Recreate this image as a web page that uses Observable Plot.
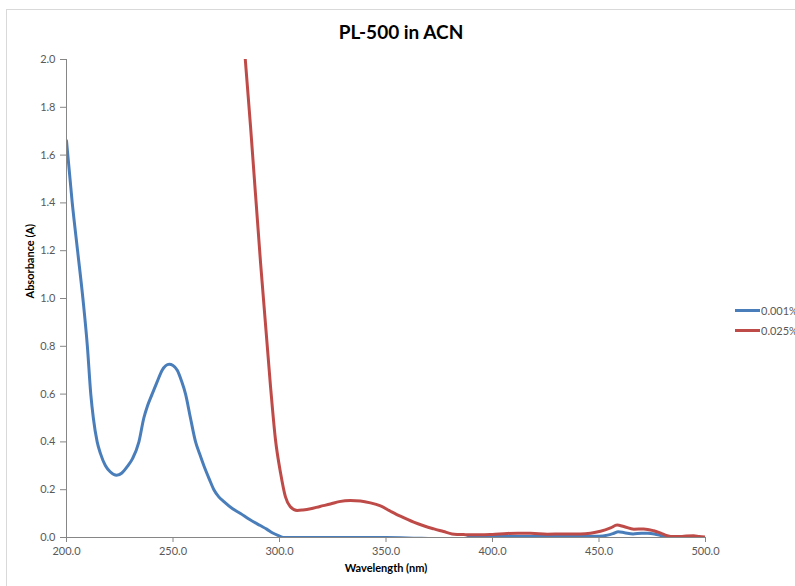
<!DOCTYPE html>
<html>
<head>
<meta charset="utf-8">
<script src="https://cdn.jsdelivr.net/npm/d3@7"></script>
<script src="https://cdn.jsdelivr.net/npm/@observablehq/plot@0.6"></script>
<style>
  html, body { margin: 0; padding: 0; background: #fff; }
  #wrap { position: relative; width: 795px; height: 586px; overflow: hidden; font-family: Lato, "Open Sans", sans-serif; }
  #frame { position: absolute; left: 6px; top: 9px; width: 900px; height: 700px; border: 1px solid #d9d9d9; box-sizing: border-box; }
  #title { position: absolute; left: 0; top: 20px; width: 802px; text-align: center; font-weight: bold; font-size: 19px; color: #000; }
  #chart { position: absolute; left: 0; top: 0; }
  #legend { position: absolute; left: 735px; top: 300px; font-size: 11px; color: #595959; }
  .item { display: flex; align-items: center; height: 20px; white-space: nowrap; }
  .swatch { width: 25px; height: 3px; margin-right: 1px; }
</style>
</head>
<body>
<div id="wrap">
  <div id="frame"></div>
  <div id="title">PL-500 in ACN</div>
  <div id="chart"></div>
  <div id="legend"></div>
</div>
<script>
// Series names and colours
const seriesNames = ["0.001%", "0.025%"];
const seriesColors = ["#4a7ebb", "#be4b48"];

// 0.001% series (wavelength nm, absorbance A)
const wl001 = [200, 202.7, 205.2, 207.7, 209.8, 211.4, 212.6, 214.4, 216, 218.3, 220.5, 223.5, 226, 228.8, 231, 234, 236.3, 238, 240.2, 242.5, 244.9, 248.2, 250, 252, 254, 255.9, 258.2, 260.6, 262.5, 264.5, 267, 269.2, 271.5, 273.9, 278, 281.7, 286, 291, 294, 296.6, 299.5, 301.9, 310, 330, 350, 365, 370, 372, 385, 390, 420, 450, 454, 457, 459, 462, 466, 470, 473, 476, 479, 482, 484, 500];
const abs001 = [1.66, 1.40, 1.20, 1.00, 0.80, 0.60, 0.50, 0.40, 0.35, 0.30, 0.275, 0.26, 0.27, 0.30, 0.33, 0.40, 0.50, 0.55, 0.60, 0.65, 0.70, 0.725, 0.72, 0.70, 0.655, 0.60, 0.50, 0.40, 0.35, 0.30, 0.245, 0.20, 0.17, 0.15, 0.12, 0.10, 0.075, 0.05, 0.035, 0.02, 0.008, 0.0, 0.0, 0.0, 0.0, -0.003, -0.004, -0.012, -0.012, 0.004, 0.004, 0.005, 0.01, 0.018, 0.024, 0.02, 0.015, 0.018, 0.018, 0.015, 0.008, 0.0, -0.012, -0.012];

// 0.025% series (wavelength nm, absorbance A)
const wl025 = [283.5, 286.4, 291.1, 295.8, 298.1, 300.5, 302.8, 305, 308.3, 311, 314.6, 319, 323.9, 328, 333.3, 338, 342.7, 347.4, 352.1, 357, 363, 368, 372.5, 377, 381, 387, 394.4, 400, 406.9, 412, 417.8, 425.7, 433, 441.3, 446, 450.7, 455.4, 458.5, 461.6, 466.4, 471, 475.7, 479, 482, 485, 488.3, 491, 494.4, 497, 500];
const abs025 = [2.05, 1.72, 1.15, 0.63, 0.41, 0.27, 0.17, 0.13, 0.113, 0.115, 0.12, 0.13, 0.14, 0.15, 0.155, 0.153, 0.145, 0.132, 0.11, 0.088, 0.064, 0.048, 0.036, 0.025, 0.015, 0.012, 0.011, 0.013, 0.017, 0.018, 0.018, 0.014, 0.015, 0.015, 0.018, 0.026, 0.04, 0.052, 0.046, 0.035, 0.036, 0.028, 0.018, 0.008, 0.004, 0.004, 0.006, 0.007, 0.004, 0.002];

// Axis ticks
const xTicks = [200, 250, 300, 350, 400, 450, 500];
const yTicks = [0, 0.2, 0.4, 0.6, 0.8, 1.0, 1.2, 1.4, 1.6, 1.8, 2.0];

const data001 = wl001.map((w, i) => ({w, a: abs001[i]}));
const data025 = wl025.map((w, i) => ({w, a: abs025[i]}));

const fmt = d3.format(".1f");
const axisColor = "#868686";
const textColor = "#595959";

const chart = Plot.plot({
  width: 795,
  height: 586,
  marginLeft: 66,
  marginRight: 90,
  marginTop: 59,
  marginBottom: 49,
  style: { fontFamily: "Lato, 'Open Sans', sans-serif", fontSize: "11px", color: textColor, background: "transparent", overflow: "visible" },
  x: { domain: [200, 500] },
  y: { domain: [0, 2] },
  marks: [
    Plot.line(data001, { x: "w", y: "a", stroke: seriesColors[0], strokeWidth: 3, curve: "monotone-x", clip: true }),
    Plot.line(data025, { x: "w", y: "a", stroke: seriesColors[1], strokeWidth: 3, curve: "monotone-x", clip: true }),
    Plot.ruleX([200], { stroke: axisColor, strokeWidth: 1 }),
    Plot.ruleY([0], { stroke: axisColor, strokeWidth: 1 }),
    Plot.axisY({ ticks: yTicks, tickFormat: fmt, tickSize: 6, tickPadding: 5, stroke: axisColor, fill: textColor, label: null }),
    Plot.axisX({ ticks: xTicks, tickFormat: fmt, tickSize: 5, tickPadding: 5, stroke: axisColor, fill: textColor, label: null }),
    Plot.text(["Wavelength (nm)"], { frameAnchor: "bottom", dy: 34, text: d => d, fontWeight: "bold", fontSize: 11, fill: "#000" }),
    Plot.text(["Absorbance (A)"], { frameAnchor: "left", dx: -36, rotate: -90, text: d => d, fontWeight: "bold", fontSize: 11, fill: "#000" })
  ]
});
document.getElementById("chart").appendChild(chart);

const legend = document.getElementById("legend");
seriesNames.forEach((name, i) => {
  const item = document.createElement("div");
  item.className = "item";
  const sw = document.createElement("div");
  sw.className = "swatch";
  sw.style.background = seriesColors[i];
  const label = document.createElement("span");
  label.textContent = name;
  item.appendChild(sw);
  item.appendChild(label);
  legend.appendChild(item);
});
</script>
</body>
</html>
